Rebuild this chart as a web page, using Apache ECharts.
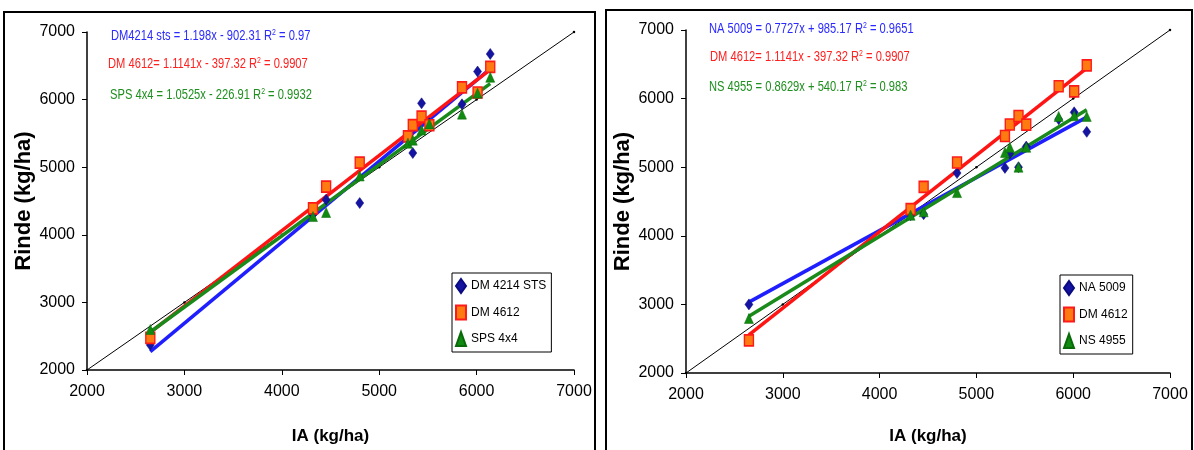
<!DOCTYPE html>
<html>
<head>
<meta charset="utf-8">
<script src="https://cdn.jsdelivr.net/npm/echarts@6/dist/echarts.min.js"></script>
<style>
  html, body { margin: 0; padding: 0; background: #fff; }
  #chart { width: 1194px; height: 450px; }
</style>
</head>
<body>
<div id="chart"></div>
<script>
// ---- data ----
const iaX = [2650, 4320, 4455, 4800, 5295, 5345, 5435, 5515, 5850, 6010, 6140];
const axisTicks = [2000, 3000, 4000, 5000, 6000, 7000];

// left panel
const dm4214 = [2370, 4300, 4520, 4470, 5420, 5210, 5945, 5650, 5930, 6415, 6675];
const dm4612 = [2475, 4390, 4713, 5068, 5455, 5622, 5747, 5620, 6180, 6105, 6485];
const sps4x4 = [2600, 4270, 4330, 4870, 5355, 5400, 5550, 5640, 5785, 6095, 6330];
// right panel
const na5009 = [3000, 4300, 4315, 4915, 4990, 5200, 5000, 5300, 5700, 5800, 5515];
const ns4955 = [2795, 4300, 4350, 4630, 5215, 5290, 5000, 5290, 5740, 5750, 5740];

const leftNames = ['DM 4214 STS', 'DM 4612', 'SPS 4x4'];
const rightNames = ['NA 5009', 'DM 4612', 'NS 4955'];
// trendline equations (slope, intercept) as printed on the chart
const leftSlopes = [1.198, 1.1141, 1.0525];
const leftIntercepts = [-902.31, -397.32, -226.91];
const rightSlopes = [0.7727, 1.1141, 0.8629];
const rightIntercepts = [985.17, -397.32, 540.17];
const leftEq = ['DM4214 sts = 1.198x - 902.31 R{s|2} = 0.97',
                'DM 4612= 1.1141x - 397.32 R{s|2} = 0.9907',
                'SPS 4x4 = 1.0525x - 226.91 R{s|2} = 0.9932'];
const rightEq = ['NA 5009 = 0.7727x + 985.17 R{s|2} = 0.9651',
                 'DM 4612= 1.1141x - 397.32 R{s|2} = 0.9907',
                 'NS 4955 = 0.8629x + 540.17 R{s|2} = 0.983'];

// ---- styles ----
const SANS = '"Liberation Sans", Arial, sans-serif';
const markerStyles = [
  { symbol: 'diamond', symbolSize: [8, 11], itemStyle: { color: '#1414a0', borderColor: '#0a0a80', borderWidth: 0.5, opacity: 1 } },
  { symbol: 'rect', symbolSize: [9, 11], itemStyle: { color: '#ff7a10', borderColor: '#ff1a1a', borderWidth: 1.5, opacity: 1 } },
  { symbol: 'triangle', symbolSize: [9, 10], itemStyle: { color: '#108a10', borderColor: '#0a6a0a', borderWidth: 0.5, opacity: 1 } }
];
const lineColors = ['#1e1eff', '#ff1414', '#1a8a1a'];
const eqColors = ['#2a2aff', '#ff2020', '#1f8f1f'];

const zip = ys => iaX.map((x, i) => [x, ys[i]]);
const xMin = Math.min(...iaX), xMax = Math.max(...iaX);

function panelSeries(idx, names, values, slopes, intercepts) {
  const out = [];
  // 1:1 reference line
  out.push({
    type: 'line', name: 'ref' + idx, xAxisIndex: idx, yAxisIndex: idx,
    data: axisTicks.map(v => [v, v]), symbol: 'circle', symbolSize: 2.5,
    lineStyle: { color: '#000', width: 1 }, itemStyle: { color: '#000' },
    silent: true, z: 1, animation: false
  });
  // trendlines
  for (let k = 0; k < 3; k++) {
    out.push({
      type: 'line', name: 'trend' + idx + '_' + k, xAxisIndex: idx, yAxisIndex: idx,
      data: [[xMin, slopes[k] * xMin + intercepts[k]], [xMax, slopes[k] * xMax + intercepts[k]]],
      symbol: 'none', lineStyle: { color: lineColors[k], width: 3.5 },
      silent: true, z: 2, animation: false
    });
  }
  // scatter points
  for (let k = 0; k < 3; k++) {
    out.push(Object.assign({
      type: 'scatter', name: names[k], xAxisIndex: idx, yAxisIndex: idx,
      data: zip(values[k]), z: 3 + k, animation: false
    }, markerStyles[k]));
  }
  return out;
}

function axisPair(idx, xGap) {
  const common = {
    type: 'value', min: 2000, max: 7000, interval: 1000, gridIndex: idx,
    splitLine: { show: false },
    axisLine: { show: true, onZero: false, lineStyle: { color: '#000', width: 1.5 } },
    axisTick: { show: true, length: 5, lineStyle: { color: '#000', width: 1 } },
    axisLabel: { color: '#000', fontFamily: SANS, fontSize: 16, formatter: v => String(v) }
  };
  const x = Object.assign({}, common, {
    name: 'IA (kg/ha)', nameLocation: 'middle', nameGap: xGap,
    nameTextStyle: { color: '#000', fontFamily: SANS, fontWeight: 'bold', fontSize: 17 },
    axisLabel: Object.assign({}, common.axisLabel, { margin: 14 })
  });
  const y = Object.assign({}, common, {
    name: 'Rinde (kg/ha)', nameLocation: 'middle', nameGap: 52,
    nameTextStyle: { color: '#000', fontFamily: SANS, fontWeight: 'bold', fontSize: 22 },
    axisLabel: Object.assign({}, common.axisLabel, { margin: 12 })
  });
  return [x, y];
}

const [x0, y0] = axisPair(0, 58);
const [x1, y1] = axisPair(1, 55);

function eqGraphics(lefts, tops, texts) {
  return texts.map((t, k) => ({
    type: 'text', x: lefts[k], y: tops[k], scaleX: 0.77, z: 10,
    style: {
      text: t, fill: eqColors[k], font: '14.5px ' + SANS,
      rich: { s: { fontSize: 9, fill: eqColors[k], fontFamily: SANS, verticalAlign: 'top', lineHeight: 16 } }
    }
  }));
}

const legendCommon = {
  orient: 'vertical', backgroundColor: '#fff', borderColor: '#000', borderWidth: 1,
  itemWidth: 10, itemHeight: 14, itemGap: 10.5, itemTextGap: 2,
  textStyle: { color: '#000', fontFamily: SANS, fontSize: 12 },
  selectedMode: false
};

const option = {
  backgroundColor: '#fff',
  animation: false,
  grid: [
    { left: 87, top: 32, width: 487, height: 338 },
    { left: 686, top: 30, width: 484, height: 345 }
  ],
  xAxis: [x0, x1],
  yAxis: [y0, y1],
  legend: [
    Object.assign({}, legendCommon, { left: 452, top: 273, padding: [5, 5, 5, 3], data: leftNames }),
    Object.assign({}, legendCommon, { left: 1060, top: 275, padding: [5, 5, 5, 3], data: rightNames })
  ],
  graphic: [
    { type: 'rect', shape: { x: 4, y: 12, width: 591, height: 445 }, style: { fill: null, stroke: '#000', lineWidth: 2 }, silent: true },
    { type: 'rect', shape: { x: 606, y: 10, width: 586, height: 447 }, style: { fill: null, stroke: '#000', lineWidth: 2 }, silent: true }
  ].concat(eqGraphics([111, 108, 110], [28, 56, 87], leftEq))
   .concat(eqGraphics([709, 710, 709], [21, 49, 79], rightEq)),
  series: panelSeries(0, leftNames, [dm4214, dm4612, sps4x4], leftSlopes, leftIntercepts)
    .concat(panelSeries(1, rightNames, [na5009, dm4612, ns4955], rightSlopes, rightIntercepts))
};

const chart = echarts.init(document.getElementById('chart'), null, { renderer: 'canvas' });
chart.setOption(option);
</script>
</body>
</html>
